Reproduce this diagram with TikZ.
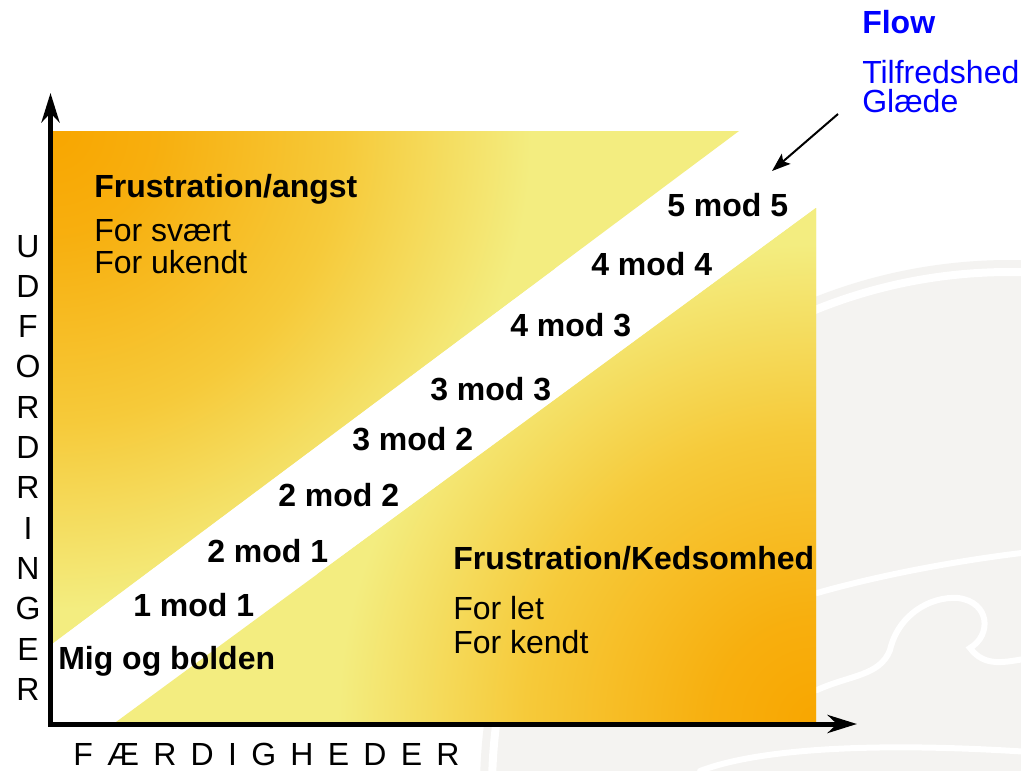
\documentclass[tikz,border=0pt]{standalone}
\usepackage{fontspec}
\setmainfont{Liberation Sans}
\usetikzlibrary{arrows.meta}
\definecolor{orng}{RGB}{248,166,0}
\definecolor{midy}{RGB}{246,202,58}
\definecolor{pale}{RGB}{243,237,128}
\definecolor{wm}{RGB}{244,243,241}
\definecolor{flowblue}{RGB}{0,0,255}
\pgfdeclareradialshading{cornerglow}{\pgfpoint{0bp}{0bp}}{color(0bp)=(orng); color(5bp)=(orng!75!midy); color(14bp)=(midy); color(23bp)=(pale); color(50bp)=(pale)}
\begin{document}
\begin{tikzpicture}[x=0.75pt,y=-0.75pt,
  lbl/.style={inner sep=0pt, anchor=base west, font=\fontsize{24}{29}\selectfont},
  blbl/.style={inner sep=0pt, anchor=base west, font=\fontsize{24}{29}\selectfont\bfseries},
  vletter/.style={inner sep=0pt, anchor=base, font=\fontsize{24}{29}\selectfont},
  axis/.style={line width=3.75pt, -{Stealth[length=22pt,width=13.5pt,inset=7pt]}},
  flowarrow/.style={line width=1.5pt, -{Stealth[length=14pt,width=10pt,inset=3pt]}},
  wmline/.style={white, line width=4.5pt, line cap=round}]
\useasboundingbox (0,0) rectangle (1021,771);
\fill[white] (0,0) rectangle (1021,771);
% watermark
\begin{scope}
  \clip (0,0) rectangle (1021,771);
  \fill[wm] (1010,790) circle (530);
  \draw[white, line width=6pt] (1010,790) circle (518);
  \draw[wmline] (817,593) .. controls (880,575) and (960,560) .. (1030,552);
  \draw[wmline] (817,690) .. controls (850,675) and (880,676) .. (890,650)
        .. controls (898,615) and (930,596) .. (958,598)
        .. controls (990,602) and (992,635) .. (970,648)
        .. controls (985,668) and (1005,662) .. (1030,658);
  \draw[wmline] (700,771) .. controls (760,748) and (880,742) .. (1030,752);
\end{scope}
% upper region
\fill[pale] (53,131) -- (739,131) -- (53,643) -- cycle;
\begin{scope}
  \clip (53,131) -- (739,131) -- (53,643) -- cycle;
  \shade[shading=cornerglow] (53,131) circle (520);
\end{scope}
% lower region
\fill[pale] (116,722) -- (816,208) -- (816,722) -- cycle;
\begin{scope}
  \clip (116,722) -- (816,208) -- (816,722) -- cycle;
  \shade[shading=cornerglow] (816,722) circle (520);
\end{scope}
% axes
\coordinate (yo) at (50.5,726.5);
\coordinate (ye) at (50.5,93);
\coordinate (xo) at (48,724);
\coordinate (xe) at (857,724);
\draw[axis] (yo) -- (ye);
\draw[axis] (xo) -- (xe);
% axis labels
\foreach \l [count=\i] in {U,D,F,O,R,D,R,I,N,G,E,R}
  \node[vletter] (v\i) at (28,{257+40.3*(\i-1)}) {\l};
\node[lbl] (xlabel) at (73,765) {\spaceskip=10.7pt F Æ R D I G H E D E R};
% region texts
\node[blbl] (angst) at (94,197) {Frustration/angst};
\node[lbl] (svaert) at (94,241) {For svært};
\node[lbl] (ukendt) at (94,273) {For ukendt};
\node[blbl] (keds) at (453,569) {Frustration/Kedsomhed};
\node[lbl] (let) at (453,619) {For let};
\node[lbl] (kendt) at (453,653) {For kendt};
% diagonal labels
\node[blbl] (m55) at (667,216) {5 mod 5};
\node[blbl] (m44) at (591,275) {4 mod 4};
\node[blbl] (m43) at (510,336) {4 mod 3};
\node[blbl] (m33) at (430,400) {3 mod 3};
\node[blbl] (m32) at (352,450) {3 mod 2};
\node[blbl] (m22) at (278,506) {2 mod 2};
\node[blbl] (m21) at (207,562) {2 mod 1};
\node[blbl] (m11) at (133,616) {1 mod 1};
\node[blbl] (mig) at (58,669) {Mig og bolden};
% flow
\node[blbl, text=flowblue] (flow) at (862,33) {Flow};
\node[lbl, text=flowblue] (tilf) at (862,83) {Tilfredshed};
\node[lbl, text=flowblue] (glaede) at (862,112) {Glæde};
\coordinate (fa) at (838,114);
\coordinate (fb) at (772,171);
\draw[flowarrow] (fa) -- (fb);
\end{tikzpicture}
\end{document}
